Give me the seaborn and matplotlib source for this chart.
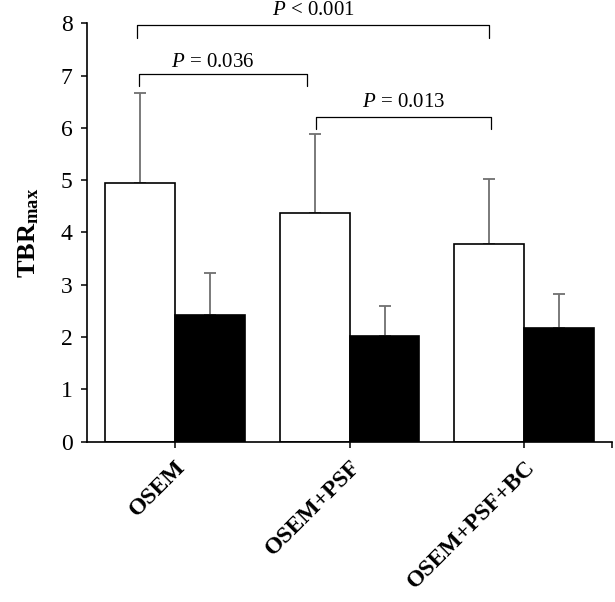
import matplotlib
matplotlib.use("Agg")
import matplotlib.pyplot as plt
import seaborn as sns
import pandas as pd

# ---- data ----
methods = ["OSEM", "OSEM+PSF", "OSEM+PSF+BC"]
groups = ["White", "Black"]
white_mean = [4.94, 4.37, 3.78]
white_sd = [1.73, 1.51, 1.24]
black_mean = [2.42, 2.02, 2.18]
black_sd = [0.80, 0.58, 0.65]
p_labels = ["$P$ < 0.001", "$P$ = 0.036", "$P$ = 0.013"]
y_label = r"$\mathbf{TBR}_{\mathbf{max}}$"
y_ticks = [0, 1, 2, 3, 4, 5, 6, 7, 8]

df = pd.DataFrame({
    "method": methods * 2,
    "group": [groups[0]] * 3 + [groups[1]] * 3,
    "value": white_mean + black_mean,
})
sds = {groups[0]: white_sd, groups[1]: black_sd}

sns.set_style("ticks")
plt.rcParams["font.family"] = ["Liberation Serif", "DejaVu Serif"]
plt.rcParams["mathtext.fontset"] = "custom"
plt.rcParams["mathtext.rm"] = "Liberation Serif"
plt.rcParams["mathtext.it"] = "Liberation Serif:italic"
plt.rcParams["mathtext.bf"] = "Liberation Serif:bold"
for k in ["text.color", "axes.labelcolor", "xtick.color", "ytick.color",
          "axes.edgecolor"]:
    plt.rcParams[k] = "black"

fig = plt.figure(figsize=(6.15, 6.02), dpi=100)
ax = fig.add_axes([0.1415, 0.2663, 0.8536, 0.695])

sns.barplot(data=df, x="method", y="value", hue="group", order=methods,
            hue_order=groups, palette={groups[0]: "white", groups[1]: "black"},
            edgecolor="black", linewidth=1.2, errorbar=None, width=0.8,
            legend=False, ax=ax)
for p in ax.patches:
    p.set_zorder(2)

# upper-only error bars placed on the bars drawn by seaborn
for cont, g in zip(ax.containers, groups):
    xs = [b.get_x() + b.get_width() / 2 for b in cont]
    hs = [b.get_height() for b in cont]
    ax.errorbar(xs, hs, yerr=[[0] * len(hs), sds[g]], fmt="none",
                ecolor="#707070", elinewidth=1.3, capsize=4.3, capthick=1.3,
                zorder=1)

ax.set_xlim(-0.5, 2.5)
ax.set_ylim(0, 8)
ax.set_yticks(y_ticks)
ax.set_yticklabels([str(t) for t in y_ticks], fontsize=17)
ax.set_xlabel("")
ax.set_ylabel(y_label, fontsize=19, labelpad=14)
ax.set_xticks(range(len(methods)))
ax.set_xticklabels(methods, rotation=45, ha="right", va="top",
                   rotation_mode="anchor", fontsize=17, fontweight="bold")
ax.set_xticks([2.5], minor=True)
ax.tick_params(axis="both", which="both", direction="out", length=4.5,
               width=1.1, color="black")
ax.tick_params(axis="x", which="major", pad=6)
ax.tick_params(axis="y", which="major", pad=6)
for s in ["top", "right"]:
    ax.spines[s].set_visible(False)
for s in ["left", "bottom"]:
    ax.spines[s].set_linewidth(1.2)
    ax.spines[s].set_color("black")

# significance brackets: (x0, x1, leg bottom, bar top, text baseline)
brackets = [(-0.213, 1.795, 7.72, 7.97, 8.16),
            (-0.205, 0.758, 6.80, 7.03, 7.17),
            (0.807, 1.81, 5.97, 6.21, 6.40)]
for (x0, x1, yl, yt, ytxt), lab in zip(brackets, p_labels):
    ax.plot([x0, x0, x1, x1], [yl, yt, yt, yl], color="black", lw=0.9,
            clip_on=False)
    ax.text((x0 + x1) / 2 + (0.0 if lab != p_labels[1] else -0.06), ytxt, lab,
            ha="center", va="baseline", fontsize=15, clip_on=False)

fig.savefig("out.png", dpi=100)
